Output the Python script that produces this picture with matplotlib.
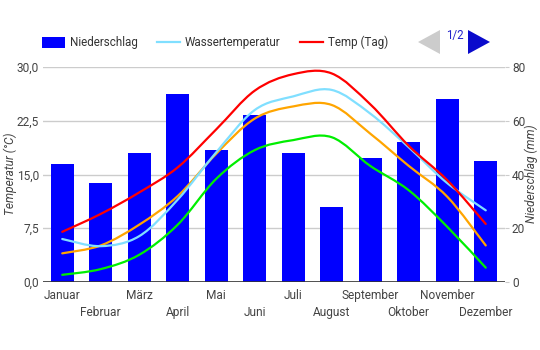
import numpy as np
import matplotlib
matplotlib.use("Agg")
import matplotlib.pyplot as plt
from matplotlib.path import Path
from matplotlib.patches import PathPatch, Rectangle, Polygon
from matplotlib.lines import Line2D

plt.rcParams.update({
    "font.family": ["Roboto", "DejaVu Sans"],
    "font.size": 8.6,
})

months = ["Januar", "Februar", "März", "April", "Mai", "Juni", "Juli",
          "August", "September", "Oktober", "November", "Dezember"]
niederschlag = [44, 37, 48, 70, 49, 62, 48, 28, 46, 52, 68, 45]
temp_tag = [7.0, 9.5, 12.5, 16.0, 21.3, 26.7, 29.0, 29.1, 24.8, 19.0, 14.2, 8.1]
wasser = [6.0, 5.0, 6.4, 11.5, 18.1, 24.0, 25.9, 26.8, 23.5, 18.8, 13.8, 10.0]
temp_mittel = [4.0, 5.1, 8.0, 12.0, 17.9, 22.8, 24.5, 24.7, 20.7, 16.2, 11.9, 5.1]
temp_nacht = [1.0, 1.8, 3.8, 8.0, 14.4, 18.4, 19.8, 20.2, 16.2, 12.8, 7.7, 2.0]

W, H = 540, 350
TXT = "#444444"
GRID = "#cccccc"


def px(x, y):
    return x / W, 1 - y / H


def smooth_path(ys):
    # catmull-rom style bezier through the data points
    xs = np.arange(len(ys), dtype=float)
    ys = np.asarray(ys, dtype=float)
    n = len(xs)
    verts = [(xs[0], ys[0])]
    codes = [Path.MOVETO]
    for i in range(n - 1):
        i0 = max(i - 1, 0)
        i3 = min(i + 2, n - 1)
        t1 = ((xs[i + 1] - xs[i0]) / 2, (ys[i + 1] - ys[i0]) / 2)
        t2 = ((xs[i3] - xs[i]) / 2, (ys[i3] - ys[i]) / 2)
        c1 = (xs[i] + t1[0] / 3, ys[i] + t1[1] / 3)
        c2 = (xs[i + 1] - t2[0] / 3, ys[i + 1] - t2[1] / 3)
        verts += [c1, c2, (xs[i + 1], ys[i + 1])]
        codes += [Path.CURVE4] * 3
    return Path(verts, codes)


fig = plt.figure(figsize=(W / 100, H / 100), dpi=100)
left, right, top, bottom = 43, 505, 67, 282
ax2 = fig.add_axes([left / W, 1 - bottom / H, (right - left) / W, (bottom - top) / H])
ax = ax2.twinx()
ax.set_zorder(ax2.get_zorder() + 1)
ax.patch.set_visible(False)

x = np.arange(len(months))
ax2.bar(x, niederschlag, width=0.59, color="#0000ff", zorder=2)
ax2.set_ylim(0, 80)
ax2.set_xlim(-0.5, len(months) - 0.5)
ax2.set_yticks([0, 20, 40, 60, 80])
ax2.yaxis.grid(True, color=GRID, lw=1, zorder=0)
ax2.set_axisbelow(True)
ax2.yaxis.tick_right()
ax2.tick_params(axis="y", length=3, color=GRID, labelcolor=TXT, pad=2)

ax.yaxis.tick_left()
ax.set_ylim(0, 30)
ax.set_yticks([0, 7.5, 15, 22.5, 30])
ax.set_yticklabels([f"{v:.1f}".replace(".", ",") for v in [0, 7.5, 15, 22.5, 30]])
ax.tick_params(axis="y", length=0, labelcolor=TXT, pad=3)

# axis titles placed directly
fig.text(*px(10, 174), "Temperatur (°C)", fontstyle="italic", color=TXT,
         rotation=90, ha="center", va="center")
fig.text(*px(531, 174), "Niederschlag (mm)", fontstyle="italic", color=TXT,
         rotation=90, ha="center", va="center")

for ys, col in [(temp_nacht, "#00ee00"), (temp_mittel, "#ffa500"),
                (wasser, "#80dfff"), (temp_tag, "#ff0000")]:
    ax.add_patch(PathPatch(smooth_path(ys), facecolor="none", edgecolor=col,
                           lw=1.6, capstyle="round", zorder=3))

ax.axhline(0, color="#333333", lw=1.2, zorder=4)

ax2.set_xticks(x[::2], [months[i] for i in x[::2]])
ax2.set_xticks(x[1::2], [months[i] for i in x[1::2]], minor=True)
ax2.tick_params(axis="x", which="major", length=0, pad=5, labelcolor=TXT)
ax2.tick_params(axis="x", which="minor", length=0, pad=17, labelcolor=TXT)
for a in (ax, ax2):
    for sp in a.spines.values():
        sp.set_visible(False)

# legend
fig.add_artist(Rectangle(px(42, 48), 23 / W, 11.5 / H, transform=fig.transFigure,
                         facecolor="#0000ff", edgecolor="none"))
fig.text(*px(70, 42.5), "Niederschlag", color="#333333", va="center", ha="left", fontsize=8.4)
fig.add_artist(Line2D([157 / W, 180 / W], [1 - 42 / H] * 2, transform=fig.transFigure,
                      color="#80dfff", lw=1.6))
fig.text(*px(185, 42.5), "Wassertemperatur", color="#333333", va="center", ha="left", fontsize=8.4)
fig.add_artist(Line2D([300 / W, 323 / W], [1 - 42 / H] * 2, transform=fig.transFigure,
                      color="#ff0000", lw=1.6))
fig.text(*px(328, 42.5), "Temp (Tag)", color="#333333", va="center", ha="left", fontsize=8.4)

fig.add_artist(Polygon([px(418, 42), px(440, 30), px(440, 54)], closed=True,
                       transform=fig.transFigure, facecolor="#cccccc", edgecolor="none"))
fig.add_artist(Polygon([px(490, 42), px(468, 30), px(468, 54)], closed=True,
                       transform=fig.transFigure, facecolor="#0a0acc", edgecolor="none"))
fig.text(*px(454.5, 36), "1/2", color="#2222cc", va="center", ha="center", fontsize=8.3)

fig.savefig("out.png", dpi=100, facecolor="white")
